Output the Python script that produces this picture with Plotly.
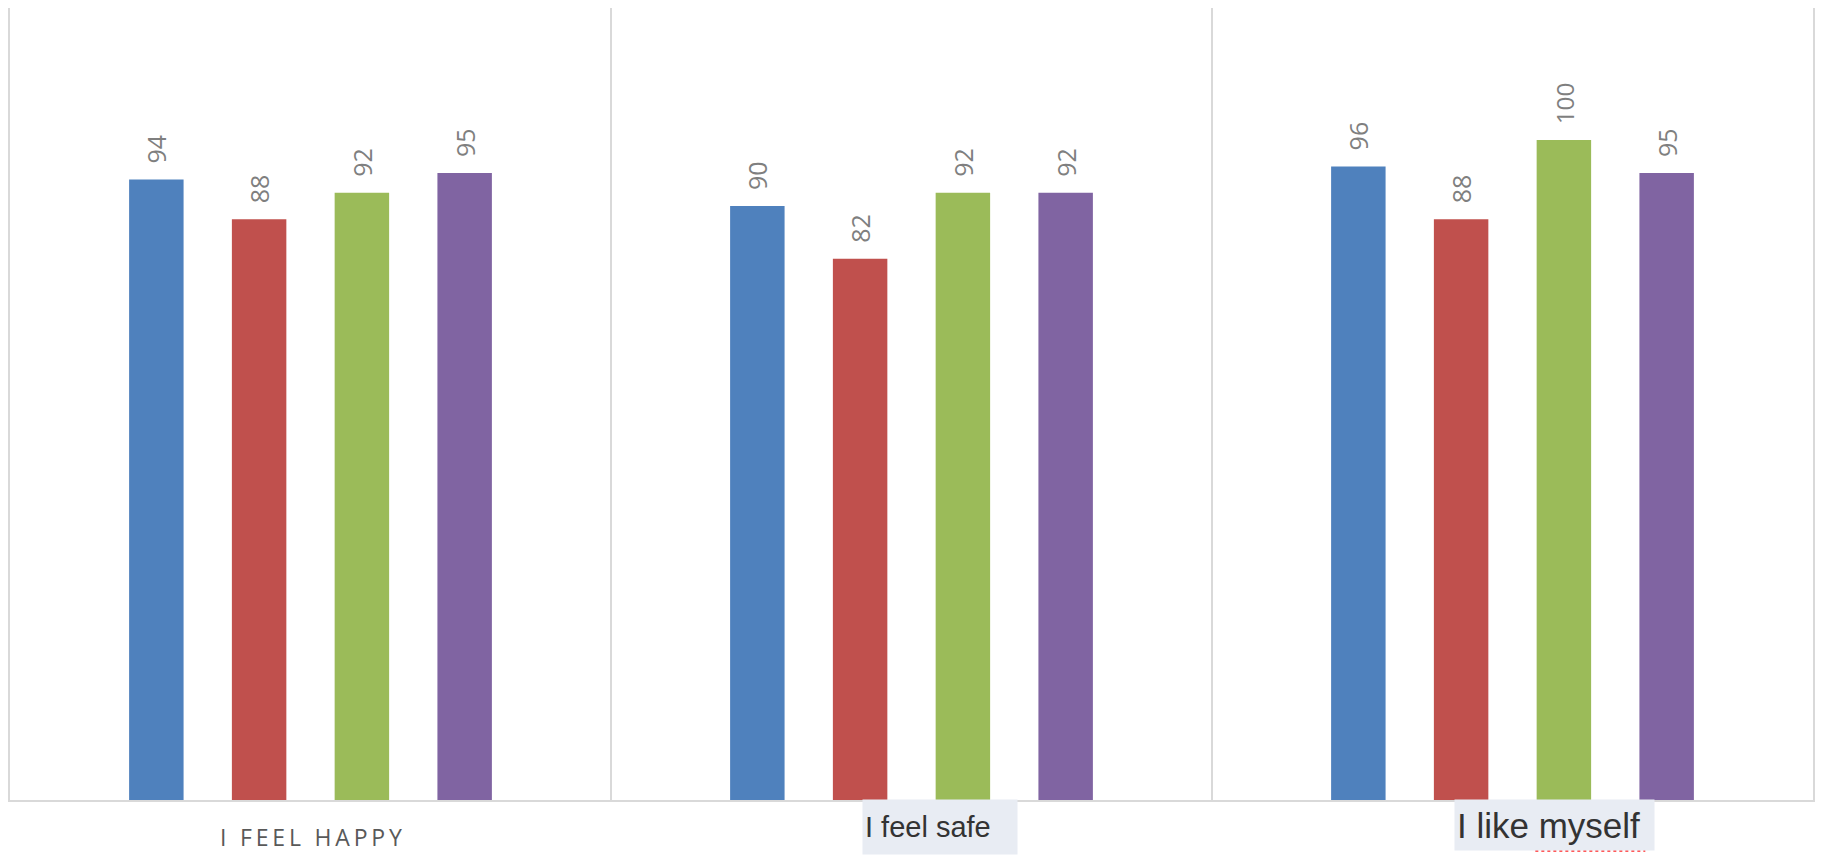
import plotly.graph_objects as go

# Survey statements (one group per statement)
categories = ["I feel happy", "I feel safe", "I like myself"]

# Percentage agreeing, one list per series
series_names = ["Series 1", "Series 2", "Series 3", "Series 4"]
series_1 = [94, 90, 96]
series_2 = [88, 82, 88]
series_3 = [92, 92, 100]
series_4 = [95, 92, 95]

series_values = [series_1, series_2, series_3, series_4]
series_colors = ["#4f81bd", "#c0504d", "#9bbb59", "#8064a2"]

NBSP = "\u00a0"

fig = go.Figure()
for name, vals, color in zip(series_names, series_values, series_colors):
    fig.add_trace(go.Bar(
        name=name,
        x=categories,
        y=vals,
        marker=dict(color=color, line=dict(width=0)),
        text=[NBSP * 2 + str(v) for v in vals],
        textposition="outside",
        textangle=-90,
        textfont=dict(family="Open Sans", size=25, color="#7f7f7f"),
        cliponaxis=False,
        hoverinfo="x+y+name",
    ))

fig.update_layout(
    barmode="group",
    bargap=0.316,
    bargroupgap=0.47,
    width=1821,
    height=855,
    margin=dict(l=10, r=6, t=8, b=55),
    paper_bgcolor="white",
    plot_bgcolor="white",
    showlegend=False,
    xaxis=dict(
        type="category",
        tickson="boundaries",
        showgrid=True,
        gridcolor="#d9d9d9",
        gridwidth=2,
        showline=True,
        linecolor="#d9d9d9",
        linewidth=2,
        showticklabels=False,
        ticks="",
        range=[-0.5, 2.5],
    ),
    yaxis=dict(
        range=[0, 120],
        showgrid=False,
        zeroline=False,
        showticklabels=False,
        ticks="",
        showline=True,
        mirror=True,
        linecolor="#d9d9d9",
        linewidth=2,
    ),
)

# Category captions under each group
fig.add_annotation(
    x=categories[0], xref="x", y=0, yref="paper",
    yanchor="middle", yshift=-37,
    text="\u2009".join(list("I FEEL HAPPY")),
    showarrow=False,
    font=dict(family="Open Sans", size=23, color="#595959"),
)
fig.add_annotation(
    x=categories[1], xref="x", y=0, yref="paper",
    yanchor="top", yshift=1, xshift=28,
    text="I feel safe",
    showarrow=False,
    width=150, height=50, borderpad=2,
    align="left", valign="middle",
    bgcolor="#e8ecf3",
    font=dict(family="Liberation Sans", size=29, color="#333333"),
)
fig.add_annotation(
    x=categories[2], xref="x", y=0, yref="paper",
    yanchor="top", yshift=1, xshift=42,
    text="I like myself",
    showarrow=False,
    width=195, height=46, borderpad=2,
    align="left", valign="middle",
    bgcolor="#e8ecf3",
    font=dict(family="Liberation Sans", size=35, color="#333333"),
)

# Dotted red spell-check mark under "myself"
fig.add_shape(
    type="line",
    xref="paper", x0=0.846, x1=0.907,
    yref="paper", y0=-0.0644, y1=-0.0644,
    line=dict(color="#ff5a5a", width=2, dash="dot"),
    layer="above",
)

fig.write_html("out.html")
